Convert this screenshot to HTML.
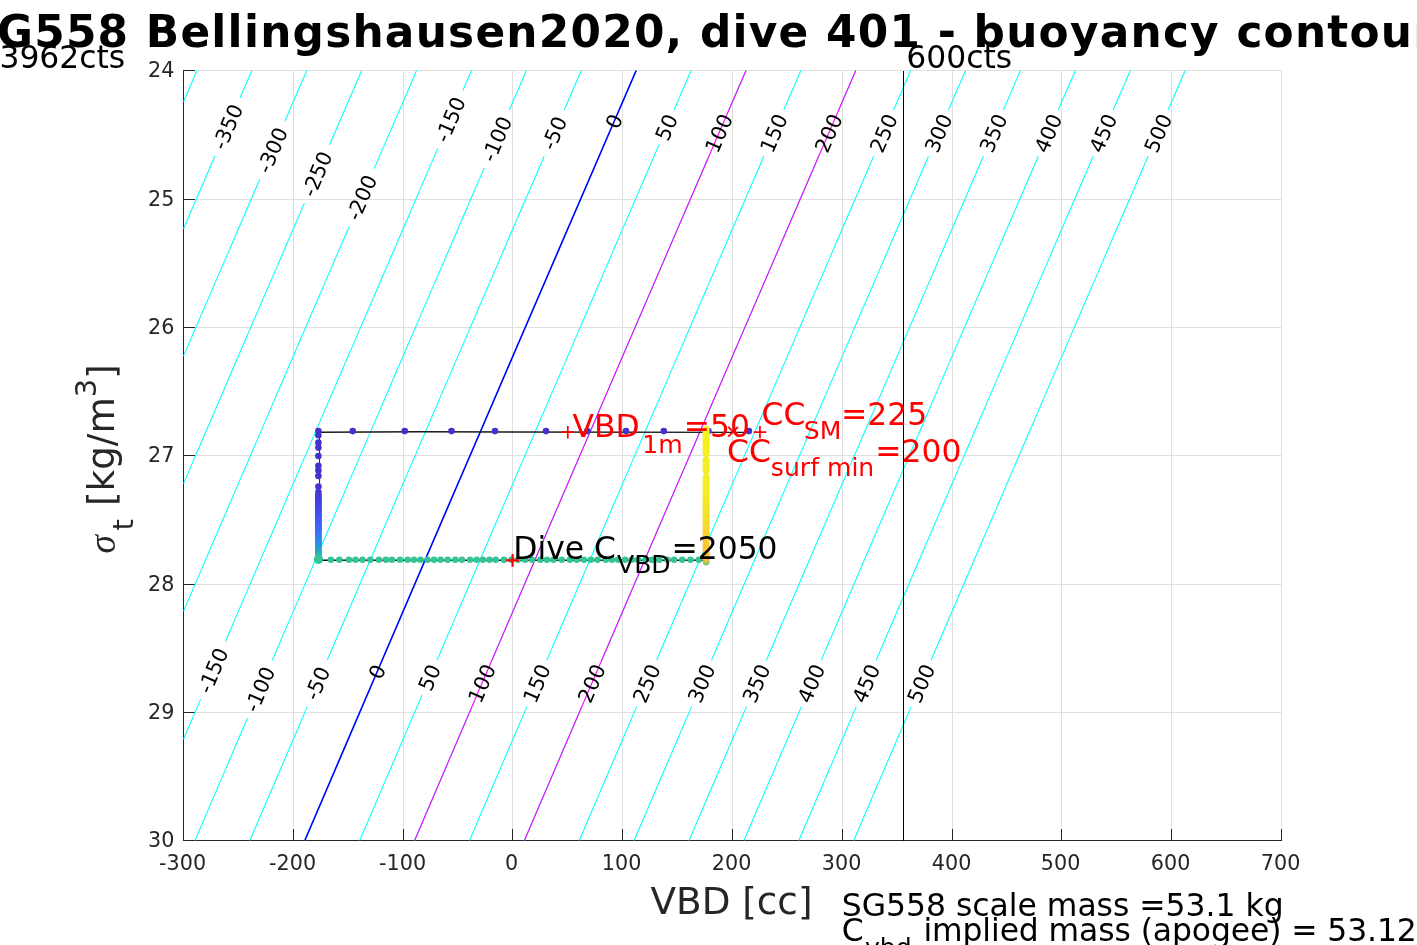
<!DOCTYPE html>
<html lang="en"><head><meta charset="utf-8"><title>SG558 Bellingshausen2020, dive 401 - buoyancy contours</title>
<style>html,body{margin:0;padding:0;background:#fff;overflow:hidden}svg{display:block}text{font-family:"DejaVu Sans","Liberation Sans",sans-serif}</style>
</head><body>
<svg width="1417" height="945" viewBox="0 0 1417 945">
<rect width="1417" height="945" fill="#fff"/>
<g fill="#dfdfdf">
<rect x="183" y="70" width="1" height="771"/>
<rect x="293" y="70" width="1" height="771"/>
<rect x="403" y="70" width="1" height="771"/>
<rect x="512" y="70" width="1" height="771"/>
<rect x="622" y="70" width="1" height="771"/>
<rect x="732" y="70" width="1" height="771"/>
<rect x="842" y="70" width="1" height="771"/>
<rect x="952" y="70" width="1" height="771"/>
<rect x="1061" y="70" width="1" height="771"/>
<rect x="1171" y="70" width="1" height="771"/>
<rect x="1281" y="70" width="1" height="771"/>
<rect x="183" y="70" width="1099" height="1"/>
<rect x="183" y="199" width="1099" height="1"/>
<rect x="183" y="327" width="1099" height="1"/>
<rect x="183" y="455" width="1099" height="1"/>
<rect x="183" y="584" width="1099" height="1"/>
<rect x="183" y="712" width="1099" height="1"/>
<rect x="183" y="840" width="1099" height="1"/>
</g>
<g fill="#262626">
<rect x="183" y="70" width="1" height="771"/>
<rect x="183" y="840" width="1099" height="1"/>
<rect x="183" y="829" width="1" height="11"/>
<rect x="293" y="829" width="1" height="11"/>
<rect x="403" y="829" width="1" height="11"/>
<rect x="512" y="829" width="1" height="11"/>
<rect x="622" y="829" width="1" height="11"/>
<rect x="732" y="829" width="1" height="11"/>
<rect x="842" y="829" width="1" height="11"/>
<rect x="952" y="829" width="1" height="11"/>
<rect x="1061" y="829" width="1" height="11"/>
<rect x="1171" y="829" width="1" height="11"/>
<rect x="1281" y="829" width="1" height="11"/>
<rect x="184" y="70" width="11" height="1"/>
<rect x="184" y="199" width="11" height="1"/>
<rect x="184" y="327" width="11" height="1"/>
<rect x="184" y="455" width="11" height="1"/>
<rect x="184" y="584" width="11" height="1"/>
<rect x="184" y="712" width="11" height="1"/>
<rect x="184" y="840" width="11" height="1"/>
</g>
<g fill="none" stroke="#00ffff" stroke-width="1.05">
<polyline points="197.0,70.5 183.5,101.7"/>
<polyline points="251.9,70.5 240.1,97.8"/>
<polyline points="215.1,155.7 198.6,193.8 183.5,228.8"/>
<polyline points="306.8,70.5 295.8,95.8 284.9,121.2"/>
<polyline points="259.8,179.1 243.1,218.0 226.3,256.9 209.5,295.9 192.7,334.8 183.5,356.1"/>
<polyline points="361.7,70.5 345.6,107.8 329.5,145.0"/>
<polyline points="304.5,202.9 287.3,242.8 270.1,282.6 252.9,322.5 235.7,362.3 218.6,402.2 201.4,442.0 184.3,481.9 183.5,483.6"/>
<polyline points="416.6,70.5 402.5,103.2 388.3,135.9 374.2,168.6"/>
<polyline points="349.2,226.5 332.6,264.9 316.1,303.3 299.5,341.7 283.0,380.0 266.5,418.4 250.0,456.8 233.4,495.1 216.9,533.5 200.4,571.9 184.0,610.3 183.5,611.3"/>
<polyline points="471.5,70.5 462.9,90.5"/>
<polyline points="437.8,148.4 421.4,186.4 405.1,224.3 388.7,262.2 372.3,300.2 356.0,338.1 339.6,376.0 323.3,413.9 307.0,451.9 290.6,489.8 274.3,527.7 258.0,565.6 241.7,603.6 225.4,641.5"/>
<polyline points="200.6,699.4 185.4,734.7 183.5,739.2"/>
<polyline points="526.4,70.5 509.3,110.0"/>
<polyline points="484.3,167.9 467.9,205.8 451.6,243.7 435.2,281.6 418.9,319.4 402.6,357.3 386.3,395.2 370.0,433.1 353.7,470.9 337.4,508.8 321.1,546.7 304.8,584.6 288.5,622.4 272.3,660.3"/>
<polyline points="247.4,718.2 234.3,748.8 221.2,779.4 208.1,809.9 195.0,840.5"/>
<polyline points="581.3,70.5 564.2,110.0"/>
<polyline points="544.2,156.3 527.5,195.0 510.7,233.8 494.0,272.6 477.3,311.3 460.6,350.1 443.9,388.9 427.2,427.7 410.5,466.4 393.8,505.2 377.1,544.0 360.5,582.8 343.8,621.5 327.2,660.3"/>
<polyline points="307.3,706.6 293.0,740.0 278.6,773.5 264.2,807.0 249.9,840.5"/>
<polyline points="636.2,70.5 619.1,110.0"/>
<polyline points="609.2,132.9 593.0,170.6 576.7,208.2 560.4,245.9 544.2,283.6 527.9,321.3 511.7,358.9 495.5,396.6 479.2,434.3 463.0,471.9 446.8,509.6 430.6,547.3 414.4,585.0 398.2,622.6 382.1,660.3"/>
<polyline points="372.2,683.2 355.4,722.5 338.5,761.8 321.6,801.2 304.8,840.5"/>
<polyline points="691.1,70.5 674.0,110.0"/>
<polyline points="659.1,144.6 641.9,184.2 624.8,223.9 607.7,263.6 590.6,303.3 573.5,342.9 556.4,382.6 539.3,422.3 522.2,461.9 505.2,501.6 488.1,541.3 471.0,581.0 454.0,620.6 437.0,660.3"/>
<polyline points="422.1,694.9 406.5,731.3 390.9,767.7 375.3,804.1 359.7,840.5"/>
<polyline points="746.0,70.5 728.9,110.0"/>
<polyline points="708.9,156.3 692.2,195.0 675.4,233.8 658.7,272.6 642.0,311.3 625.3,350.1 608.6,388.9 591.9,427.7 575.2,466.4 558.5,505.2 541.8,544.0 525.2,582.8 508.5,621.5 491.9,660.3"/>
<polyline points="472.0,706.6 457.7,740.0 443.3,773.5 428.9,807.0 414.6,840.5"/>
<polyline points="800.9,70.5 783.8,110.0"/>
<polyline points="763.8,156.3 747.1,195.0 730.3,233.8 713.6,272.6 696.9,311.3 680.2,350.1 663.5,388.9 646.8,427.7 630.1,466.4 613.4,505.2 596.7,544.0 580.1,582.8 563.4,621.5 546.8,660.3"/>
<polyline points="526.9,706.6 512.6,740.0 498.2,773.5 483.8,807.0 469.5,840.5"/>
<polyline points="855.8,70.5 838.7,110.0"/>
<polyline points="818.7,156.3 802.0,195.0 785.2,233.8 768.5,272.6 751.8,311.3 735.1,350.1 718.4,388.9 701.7,427.7 685.0,466.4 668.3,505.2 651.6,544.0 635.0,582.8 618.3,621.5 601.7,660.3"/>
<polyline points="581.8,706.6 567.5,740.0 553.1,773.5 538.7,807.0 524.4,840.5"/>
<polyline points="910.7,70.5 893.6,110.0"/>
<polyline points="873.6,156.3 856.9,195.0 840.1,233.8 823.4,272.6 806.7,311.3 790.0,350.1 773.3,388.9 756.6,427.7 739.9,466.4 723.2,505.2 706.5,544.0 689.9,582.8 673.2,621.5 656.6,660.3"/>
<polyline points="636.7,706.6 622.4,740.0 608.0,773.5 593.6,807.0 579.3,840.5"/>
<polyline points="965.6,70.5 948.5,110.0"/>
<polyline points="928.5,156.3 911.8,195.0 895.0,233.8 878.3,272.6 861.6,311.3 844.9,350.1 828.2,388.9 811.5,427.7 794.8,466.4 778.1,505.2 761.4,544.0 744.8,582.8 728.1,621.5 711.5,660.3"/>
<polyline points="691.6,706.6 677.3,740.0 662.9,773.5 648.5,807.0 634.2,840.5"/>
<polyline points="1020.5,70.5 1003.4,110.0"/>
<polyline points="983.4,156.3 966.7,195.0 949.9,233.8 933.2,272.6 916.5,311.3 899.8,350.1 883.1,388.9 866.4,427.7 849.7,466.4 833.0,505.2 816.3,544.0 799.7,582.8 783.0,621.5 766.4,660.3"/>
<polyline points="746.5,706.6 732.2,740.0 717.8,773.5 703.4,807.0 689.1,840.5"/>
<polyline points="1075.4,70.5 1058.3,110.0"/>
<polyline points="1038.3,156.3 1021.6,195.0 1004.8,233.8 988.1,272.6 971.4,311.3 954.7,350.1 938.0,388.9 921.3,427.7 904.6,466.4 887.9,505.2 871.2,544.0 854.6,582.8 837.9,621.5 821.3,660.3"/>
<polyline points="801.4,706.6 787.1,740.0 772.7,773.5 758.3,807.0 744.0,840.5"/>
<polyline points="1130.3,70.5 1113.2,110.0"/>
<polyline points="1093.2,156.3 1076.5,195.0 1059.7,233.8 1043.0,272.6 1026.3,311.3 1009.6,350.1 992.9,388.9 976.2,427.7 959.5,466.4 942.8,505.2 926.1,544.0 909.5,582.8 892.8,621.5 876.2,660.3"/>
<polyline points="856.3,706.6 842.0,740.0 827.6,773.5 813.2,807.0 798.9,840.5"/>
<polyline points="1185.2,70.5 1168.1,110.0"/>
<polyline points="1148.1,156.3 1131.4,195.0 1114.6,233.8 1097.9,272.6 1081.2,311.3 1064.5,350.1 1047.8,388.9 1031.1,427.7 1014.4,466.4 997.7,505.2 981.0,544.0 964.4,582.8 947.7,621.5 931.1,660.3"/>
<polyline points="911.2,706.6 896.9,740.0 882.5,773.5 868.1,807.0 853.8,840.5"/>
</g>
<polyline fill="none" stroke="#ff00ff" stroke-width="1.1" points="746.0,70.5 715.7,140.5 685.5,210.5 655.3,280.5 625.1,350.5 595.0,420.5 564.8,490.5 534.7,560.5 504.7,630.5 474.6,700.5 444.6,770.5 414.6,840.5"/>
<polyline fill="none" stroke="#ff00ff" stroke-width="1.1" points="855.8,70.5 825.5,140.5 795.3,210.5 765.1,280.5 734.9,350.5 704.8,420.5 674.6,490.5 644.5,560.5 614.5,630.5 584.4,700.5 554.4,770.5 524.4,840.5"/>
<polyline fill="none" stroke="#0000ff" stroke-width="1.6" points="636.2,70.5 605.9,140.5 575.7,210.5 545.5,280.5 515.3,350.5 485.2,420.5 455.0,490.5 424.9,560.5 394.9,630.5 364.8,700.5 334.8,770.5 304.8,840.5"/>
<g font-size="20.7" fill="#000" text-anchor="middle">
<text transform="translate(227.6,126.8) rotate(-66.71)" y="7.3">-350</text>
<text transform="translate(272.4,150.2) rotate(-66.71)" y="7.3">-300</text>
<text transform="translate(317.0,174.0) rotate(-66.71)" y="7.3">-250</text>
<text transform="translate(361.7,197.6) rotate(-66.71)" y="7.3">-200</text>
<text transform="translate(450.3,119.5) rotate(-66.71)" y="7.3">-150</text>
<text transform="translate(213.0,670.5) rotate(-66.71)" y="7.3">-150</text>
<text transform="translate(496.8,139.0) rotate(-66.71)" y="7.3">-100</text>
<text transform="translate(259.8,689.3) rotate(-66.71)" y="7.3">-100</text>
<text transform="translate(554.2,133.1) rotate(-66.71)" y="7.3">-50</text>
<text transform="translate(317.2,683.4) rotate(-66.71)" y="7.3">-50</text>
<text transform="translate(614.2,121.4) rotate(-66.71)" y="7.3">0</text>
<text transform="translate(377.2,671.7) rotate(-66.71)" y="7.3">0</text>
<text transform="translate(666.6,127.3) rotate(-66.71)" y="7.3">50</text>
<text transform="translate(429.5,677.6) rotate(-66.71)" y="7.3">50</text>
<text transform="translate(718.9,133.1) rotate(-66.71)" y="7.3">100</text>
<text transform="translate(481.9,683.4) rotate(-66.71)" y="7.3">100</text>
<text transform="translate(773.8,133.1) rotate(-66.71)" y="7.3">150</text>
<text transform="translate(536.8,683.4) rotate(-66.71)" y="7.3">150</text>
<text transform="translate(828.7,133.1) rotate(-66.71)" y="7.3">200</text>
<text transform="translate(591.7,683.4) rotate(-66.71)" y="7.3">200</text>
<text transform="translate(883.6,133.1) rotate(-66.71)" y="7.3">250</text>
<text transform="translate(646.6,683.4) rotate(-66.71)" y="7.3">250</text>
<text transform="translate(938.5,133.1) rotate(-66.71)" y="7.3">300</text>
<text transform="translate(701.5,683.4) rotate(-66.71)" y="7.3">300</text>
<text transform="translate(993.4,133.1) rotate(-66.71)" y="7.3">350</text>
<text transform="translate(756.4,683.4) rotate(-66.71)" y="7.3">350</text>
<text transform="translate(1048.3,133.1) rotate(-66.71)" y="7.3">400</text>
<text transform="translate(811.3,683.4) rotate(-66.71)" y="7.3">400</text>
<text transform="translate(1103.2,133.1) rotate(-66.71)" y="7.3">450</text>
<text transform="translate(866.2,683.4) rotate(-66.71)" y="7.3">450</text>
<text transform="translate(1158.1,133.1) rotate(-66.71)" y="7.3">500</text>
<text transform="translate(921.1,683.4) rotate(-66.71)" y="7.3">500</text>
</g>
<line x1="903.5" y1="70.5" x2="903.5" y2="840.5" stroke="#000" stroke-width="1" shape-rendering="crispEdges"/>
<polyline fill="none" stroke="#1a1a1a" stroke-width="1.4" points="318.8,432.2 420,431.8 749,432.40000000000003"/>
<line x1="319.6" y1="431.8" x2="319.6" y2="560.2" stroke="#1a1a1a" stroke-width="1"/>
<line x1="318.8" y1="560.2" x2="706.2" y2="560.2" stroke="#111" stroke-width="1.4"/>
<line x1="706.2" y1="431.8" x2="706.2" y2="560.2" stroke="#1a1a1a" stroke-width="1"/>
<g fill="#4233cc">
<circle cx="352.7" cy="431.1" r="3.3"/>
<circle cx="404.7" cy="431.1" r="3.3"/>
<circle cx="451.5" cy="431.1" r="3.3"/>
<circle cx="495" cy="431.1" r="3.3"/>
<circle cx="546" cy="431.1" r="3.3"/>
<circle cx="587.3" cy="431.1" r="3.3"/>
<circle cx="626" cy="431.1" r="3.3"/>
<circle cx="663.8" cy="431.1" r="3.3"/>
<circle cx="708.4" cy="431.1" r="3.3"/>
<circle cx="748.9" cy="431.1" r="3.3"/>
</g>
<g>
<circle cx="318.4" cy="431.0" r="3.3" fill="#4232cc"/>
<circle cx="318.4" cy="435.3" r="3.3" fill="#4232cc"/>
<circle cx="318.4" cy="442.5" r="3.3" fill="#4232cd"/>
<circle cx="318.4" cy="447.6" r="3.3" fill="#4333cd"/>
<circle cx="318.4" cy="456.0" r="3.3" fill="#4333ce"/>
<circle cx="318.4" cy="465.8" r="3.3" fill="#4333ce"/>
<circle cx="318.4" cy="470.5" r="3.3" fill="#4333cf"/>
<circle cx="318.4" cy="476.0" r="3.3" fill="#4434cf"/>
<circle cx="318.4" cy="486.5" r="3.3" fill="#4434d0"/>
<circle cx="318.4" cy="492.0" r="3.3" fill="#4437d3"/>
<circle cx="318.4" cy="495.0" r="3.3" fill="#453ad7"/>
<circle cx="318.4" cy="496.6" r="3.3" fill="#453bd9"/>
<circle cx="318.4" cy="498.2" r="3.3" fill="#453dda"/>
<circle cx="318.4" cy="499.8" r="3.3" fill="#453edc"/>
<circle cx="318.4" cy="501.4" r="3.3" fill="#4540de"/>
<circle cx="318.4" cy="503.0" r="3.3" fill="#4541e0"/>
<circle cx="318.4" cy="504.6" r="3.3" fill="#4542e1"/>
<circle cx="318.4" cy="506.2" r="3.3" fill="#4644e3"/>
<circle cx="318.4" cy="507.8" r="3.3" fill="#4645e5"/>
<circle cx="318.4" cy="509.4" r="3.3" fill="#4647e7"/>
<circle cx="318.4" cy="511.0" r="3.3" fill="#4649e8"/>
<circle cx="318.4" cy="512.6" r="3.3" fill="#454bea"/>
<circle cx="318.4" cy="514.2" r="3.3" fill="#454deb"/>
<circle cx="318.4" cy="515.8" r="3.3" fill="#4550ec"/>
<circle cx="318.4" cy="517.4" r="3.3" fill="#4452ed"/>
<circle cx="318.4" cy="519.0" r="3.3" fill="#4455ee"/>
<circle cx="318.4" cy="520.6" r="3.3" fill="#4357f0"/>
<circle cx="318.4" cy="522.2" r="3.3" fill="#435af1"/>
<circle cx="318.4" cy="523.8" r="3.3" fill="#425cf2"/>
<circle cx="318.4" cy="525.4" r="3.3" fill="#425ff3"/>
<circle cx="318.4" cy="527.0" r="3.3" fill="#4161f5"/>
<circle cx="318.4" cy="528.6" r="3.3" fill="#4164f6"/>
<circle cx="318.4" cy="530.2" r="3.3" fill="#4066f7"/>
<circle cx="318.4" cy="531.8" r="3.3" fill="#3f69f8"/>
<circle cx="318.4" cy="533.4" r="3.3" fill="#3d6df7"/>
<circle cx="318.4" cy="535.0" r="3.3" fill="#3b71f6"/>
<circle cx="318.4" cy="536.6" r="3.3" fill="#3875f5"/>
<circle cx="318.4" cy="538.2" r="3.3" fill="#3679f4"/>
<circle cx="318.4" cy="539.8" r="3.3" fill="#347df3"/>
<circle cx="318.4" cy="541.4" r="3.3" fill="#3281f2"/>
<circle cx="318.4" cy="543.0" r="3.3" fill="#3085f1"/>
<circle cx="318.4" cy="544.6" r="3.3" fill="#2d8aee"/>
<circle cx="318.4" cy="546.2" r="3.3" fill="#2b90e7"/>
<circle cx="318.4" cy="547.8" r="3.3" fill="#2995df"/>
<circle cx="318.4" cy="549.4" r="3.3" fill="#279bd8"/>
<circle cx="318.4" cy="551.0" r="3.3" fill="#25a1d1"/>
<circle cx="318.4" cy="552.6" r="3.3" fill="#23a6ca"/>
<circle cx="318.4" cy="554.2" r="3.3" fill="#25adc0"/>
<circle cx="318.4" cy="555.8" r="3.3" fill="#2ab4b4"/>
<circle cx="318.4" cy="557.4" r="3.3" fill="#2ebba8"/>
<circle cx="318.4" cy="559.0" r="3.3" fill="#33c29c"/>
</g>
<g>
<circle cx="706.1" cy="562.0" r="3.4" fill="#78c86e"/>
<circle cx="706.1" cy="560.4" r="3.4" fill="#acc458"/>
<circle cx="706.1" cy="558.8" r="3.4" fill="#e0c043"/>
<circle cx="706.1" cy="557.2" r="3.4" fill="#fabe37"/>
<circle cx="706.1" cy="555.6" r="3.4" fill="#fbbf36"/>
<circle cx="706.1" cy="554.0" r="3.4" fill="#fbbf35"/>
<circle cx="706.1" cy="552.4" r="3.4" fill="#fcbf33"/>
<circle cx="706.1" cy="550.8" r="3.4" fill="#fcc032"/>
<circle cx="706.1" cy="549.2" r="3.4" fill="#fdc030"/>
<circle cx="706.1" cy="547.6" r="3.4" fill="#fdc130"/>
<circle cx="706.1" cy="546.0" r="3.4" fill="#fcc330"/>
<circle cx="706.1" cy="544.4" r="3.4" fill="#fcc430"/>
<circle cx="706.1" cy="542.8" r="3.4" fill="#fbc630"/>
<circle cx="706.1" cy="541.2" r="3.4" fill="#fbc830"/>
<circle cx="706.1" cy="539.6" r="3.4" fill="#fac930"/>
<circle cx="706.1" cy="538.0" r="3.4" fill="#facb30"/>
<circle cx="706.1" cy="536.4" r="3.4" fill="#f9cc30"/>
<circle cx="706.1" cy="534.8" r="3.4" fill="#f9ce30"/>
<circle cx="706.1" cy="533.2" r="3.4" fill="#f8d030"/>
<circle cx="706.1" cy="531.6" r="3.4" fill="#f8d130"/>
<circle cx="706.1" cy="530.0" r="3.4" fill="#f8d330"/>
<circle cx="706.1" cy="528.4" r="3.4" fill="#f7d430"/>
<circle cx="706.1" cy="526.8" r="3.4" fill="#f7d630"/>
<circle cx="706.1" cy="525.2" r="3.4" fill="#f6d830"/>
<circle cx="706.1" cy="523.6" r="3.4" fill="#f6d92f"/>
<circle cx="706.1" cy="522.0" r="3.4" fill="#f6da2f"/>
<circle cx="706.1" cy="520.4" r="3.4" fill="#f6db2e"/>
<circle cx="706.1" cy="518.8" r="3.4" fill="#f6dc2d"/>
<circle cx="706.1" cy="517.2" r="3.4" fill="#f5dd2c"/>
<circle cx="706.1" cy="515.6" r="3.4" fill="#f5de2c"/>
<circle cx="706.1" cy="514.0" r="3.4" fill="#f5df2b"/>
<circle cx="706.1" cy="512.4" r="3.4" fill="#f5e02a"/>
<circle cx="706.1" cy="510.8" r="3.4" fill="#f5e229"/>
<circle cx="706.1" cy="509.2" r="3.4" fill="#f5e329"/>
<circle cx="706.1" cy="507.6" r="3.4" fill="#f5e428"/>
<circle cx="706.1" cy="506.0" r="3.4" fill="#f5e527"/>
<circle cx="706.1" cy="504.4" r="3.4" fill="#f5e626"/>
<circle cx="706.1" cy="502.8" r="3.4" fill="#f4e725"/>
<circle cx="706.1" cy="501.2" r="3.4" fill="#f4e825"/>
<circle cx="706.1" cy="499.6" r="3.4" fill="#f4e924"/>
<circle cx="706.1" cy="498.0" r="3.4" fill="#f4ea23"/>
<circle cx="706.1" cy="496.4" r="3.4" fill="#f4eb22"/>
<circle cx="706.1" cy="494.8" r="3.4" fill="#f4ec22"/>
<circle cx="706.1" cy="493.2" r="3.4" fill="#f4ec22"/>
<circle cx="706.1" cy="491.6" r="3.4" fill="#f4ec22"/>
<circle cx="706.1" cy="490.0" r="3.4" fill="#f4ec22"/>
<circle cx="706.1" cy="488.4" r="3.4" fill="#f4ec22"/>
<circle cx="706.1" cy="486.8" r="3.4" fill="#f4ed21"/>
<circle cx="706.1" cy="485.2" r="3.4" fill="#f4ed21"/>
<circle cx="706.1" cy="483.6" r="3.4" fill="#f4ed21"/>
<circle cx="706.1" cy="482.0" r="3.4" fill="#f4ed21"/>
<circle cx="706.1" cy="480.4" r="3.4" fill="#f4ed21"/>
<circle cx="706.1" cy="478.8" r="3.4" fill="#f4ed21"/>
<circle cx="706.1" cy="477.2" r="3.4" fill="#f4ed21"/>
<circle cx="706.1" cy="470.8" r="3.4" fill="#f4ed21"/>
<circle cx="706.1" cy="469.2" r="3.4" fill="#f4ee20"/>
<circle cx="706.1" cy="467.6" r="3.4" fill="#f4ee20"/>
<circle cx="706.1" cy="466.0" r="3.4" fill="#f4ee20"/>
<circle cx="706.1" cy="464.4" r="3.4" fill="#f4ee20"/>
<circle cx="706.1" cy="462.8" r="3.4" fill="#f4ee20"/>
<circle cx="706.1" cy="461.2" r="3.4" fill="#f5ee20"/>
<circle cx="706.1" cy="459.6" r="3.4" fill="#f5ee20"/>
<circle cx="706.1" cy="453.2" r="3.4" fill="#f5ef1f"/>
<circle cx="706.1" cy="451.6" r="3.4" fill="#f5ef1f"/>
<circle cx="706.1" cy="450.0" r="3.4" fill="#f5ef1f"/>
<circle cx="706.1" cy="448.4" r="3.4" fill="#f5ef1f"/>
<circle cx="706.1" cy="446.8" r="3.4" fill="#f5ef1f"/>
<circle cx="706.1" cy="445.2" r="3.4" fill="#f5ef1f"/>
<circle cx="706.1" cy="443.6" r="3.4" fill="#f5ef1f"/>
<circle cx="706.1" cy="442.0" r="3.4" fill="#f5ef1f"/>
<circle cx="706.1" cy="440.4" r="3.4" fill="#f5ef1f"/>
<circle cx="706.1" cy="438.8" r="3.4" fill="#f5ef1f"/>
<circle cx="706.1" cy="437.2" r="3.4" fill="#f5f01e"/>
<circle cx="706.1" cy="435.6" r="3.4" fill="#f5f01e"/>
<circle cx="706.1" cy="434.0" r="3.4" fill="#f5f01e"/>
<circle cx="706.1" cy="432.4" r="3.4" fill="#f5f01e"/>
<circle cx="706.1" cy="430.8" r="3.4" fill="#f5f01e"/>
<circle cx="706.1" cy="429.2" r="3.4" fill="#f5f01e"/>
</g>
<g fill="#35c497">
<circle cx="318.5" cy="559.7" r="3.3"/>
<circle cx="330.9" cy="559.7" r="3.3"/>
<circle cx="339.4" cy="559.7" r="3.3"/>
<circle cx="348.9" cy="559.7" r="3.3"/>
<circle cx="355.5" cy="559.7" r="3.3"/>
<circle cx="362.5" cy="559.7" r="3.3"/>
<circle cx="370.3" cy="559.7" r="3.3"/>
<circle cx="378.9" cy="559.7" r="3.3"/>
<circle cx="385.9" cy="559.7" r="3.3"/>
<circle cx="391.9" cy="559.7" r="3.3"/>
<circle cx="400.0" cy="559.7" r="3.3"/>
<circle cx="407.5" cy="559.7" r="3.3"/>
<circle cx="413.9" cy="559.7" r="3.3"/>
<circle cx="420.5" cy="559.7" r="3.3"/>
<circle cx="427.5" cy="559.7" r="3.3"/>
<circle cx="434.1" cy="559.7" r="3.3"/>
<circle cx="440.7" cy="559.7" r="3.3"/>
<circle cx="447.7" cy="559.7" r="3.3"/>
<circle cx="455.3" cy="559.7" r="3.3"/>
<circle cx="461.9" cy="559.7" r="3.3"/>
<circle cx="470.1" cy="559.7" r="3.3"/>
<circle cx="476.7" cy="559.7" r="3.3"/>
<circle cx="482.9" cy="559.7" r="3.3"/>
<circle cx="489.5" cy="559.7" r="3.3"/>
<circle cx="495.7" cy="559.7" r="3.3"/>
<circle cx="503.9" cy="559.7" r="3.3"/>
<circle cx="511.5" cy="559.7" r="3.3"/>
<circle cx="518.1" cy="559.7" r="3.3"/>
<circle cx="525.1" cy="559.7" r="3.3"/>
<circle cx="532.1" cy="559.7" r="3.3"/>
<circle cx="540.3" cy="559.7" r="3.3"/>
<circle cx="546.9" cy="559.7" r="3.3"/>
<circle cx="553.5" cy="559.7" r="3.3"/>
<circle cx="561.7" cy="559.7" r="3.3"/>
<circle cx="569.9" cy="559.7" r="3.3"/>
<circle cx="576.9" cy="559.7" r="3.3"/>
<circle cx="583.9" cy="559.7" r="3.3"/>
<circle cx="590.9" cy="559.7" r="3.3"/>
<circle cx="597.5" cy="559.7" r="3.3"/>
<circle cx="605.7" cy="559.7" r="3.3"/>
<circle cx="611.9" cy="559.7" r="3.3"/>
<circle cx="618.1" cy="559.7" r="3.3"/>
<circle cx="625.1" cy="559.7" r="3.3"/>
<circle cx="631.7" cy="559.7" r="3.3"/>
<circle cx="637.9" cy="559.7" r="3.3"/>
<circle cx="645.5" cy="559.7" r="3.3"/>
<circle cx="651.7" cy="559.7" r="3.3"/>
<circle cx="659.3" cy="559.7" r="3.3"/>
<circle cx="667.5" cy="559.7" r="3.3"/>
<circle cx="674.1" cy="559.7" r="3.3"/>
<circle cx="682.3" cy="559.7" r="3.3"/>
<circle cx="690.5" cy="559.7" r="3.3"/>
<circle cx="698.7" cy="559.7" r="3.3"/>
<circle cx="318.5" cy="559.5" r="4.6"/>
</g>
<path d="M561.5,432.2H574.0999999999999M567.8,425.9V438.5" stroke="#ff0000" stroke-width="1.7" fill="none"/>
<path d="M728.2,426.90000000000003L738.0,436.7M728.2,436.7L738.0,426.90000000000003" stroke="#ff0000" stroke-width="1.9" fill="none"/>
<path d="M753.6500000000001,432.2H766.25M759.95,425.9V438.5" stroke="#ff0000" stroke-width="1.7" fill="none"/>
<path d="M506.20000000000005,560.3H519.0M512.6,553.9V566.6999999999999" stroke="#ff0000" stroke-width="2.2" fill="none"/>
<g fill="#ff0000" font-size="31.4">
<text x="572.6" y="436.6">VBD<tspan font-size="25.1" dx="2.5" dy="16">1m</tspan><tspan dx="1" dy="-16">=50</tspan></text>
<text x="761.5" y="424.5">CC<tspan font-size="25.1" dx="-1.5" dy="14">SM</tspan><tspan dx="-0.5" dy="-14">=225</tspan></text>
<text x="727" y="462.4">CC<tspan font-size="25.1" dy="14">surf min</tspan><tspan dx="1" dy="-14">=200</tspan></text>
</g>
<g fill="#000" font-size="31.4">
<text x="513.3" y="558.7">Dive C<tspan font-size="25.1" dx="1" dy="14">VBD</tspan><tspan dx="0.7" dy="-14">=2050</tspan></text>
<text x="-0.6" y="67.6">3962cts</text>
<text x="906.3" y="67.6">600cts</text>
<text x="841.8" y="916.0">SG558 scale mass =53.1 kg</text>
<text x="841.8" y="941.0">C<tspan font-size="25.1" dx="1.3" dy="14.6">vbd</tspan><tspan dx="1.8" dy="-14.6" letter-spacing="-0.09"> implied mass (apogee) = 53.12</tspan></text>
</g>
<g font-size="20.7" fill="#262626">
<text x="182.6" y="870.1" text-anchor="middle">-300</text>
<text x="292.6" y="870.1" text-anchor="middle">-200</text>
<text x="402.6" y="870.1" text-anchor="middle">-100</text>
<text x="511.6" y="870.1" text-anchor="middle">0</text>
<text x="621.6" y="870.1" text-anchor="middle">100</text>
<text x="731.6" y="870.1" text-anchor="middle">200</text>
<text x="841.6" y="870.1" text-anchor="middle">300</text>
<text x="951.6" y="870.1" text-anchor="middle">400</text>
<text x="1060.6" y="870.1" text-anchor="middle">500</text>
<text x="1170.6" y="870.1" text-anchor="middle">600</text>
<text x="1280.6" y="870.1" text-anchor="middle">700</text>
<text x="174.3" y="77.3" text-anchor="end">24</text>
<text x="174.3" y="206.3" text-anchor="end">25</text>
<text x="174.3" y="334.3" text-anchor="end">26</text>
<text x="174.3" y="462.3" text-anchor="end">27</text>
<text x="174.3" y="591.3" text-anchor="end">28</text>
<text x="174.3" y="719.3" text-anchor="end">29</text>
<text x="174.3" y="847.3" text-anchor="end">30</text>
</g>
<text x="731.5" y="913.7" font-size="37.33" fill="#262626" text-anchor="middle">VBD [cc]</text>
<text transform="translate(114.2,506.0) rotate(-90)" font-size="37.33" fill="#262626">[kg/m<tspan font-size="29.0" dy="-18.6">3</tspan><tspan dy="18.6">]</tspan></text>
<text transform="translate(115.1,553.5) rotate(-90)" font-size="37.33" fill="#262626" style="font-family:'Liberation Serif','DejaVu Serif',serif;font-style:italic">σ</text>
<text transform="translate(132.9,530.5) rotate(-90)" font-size="29.0" fill="#262626">t</text>
<text x="-35.8" y="46.8" font-size="43.8" letter-spacing="1.24" font-weight="bold" fill="#000">SG558 Bellingshausen2020, dive 401 - buoyancy contours</text>
</svg>
</body></html>
